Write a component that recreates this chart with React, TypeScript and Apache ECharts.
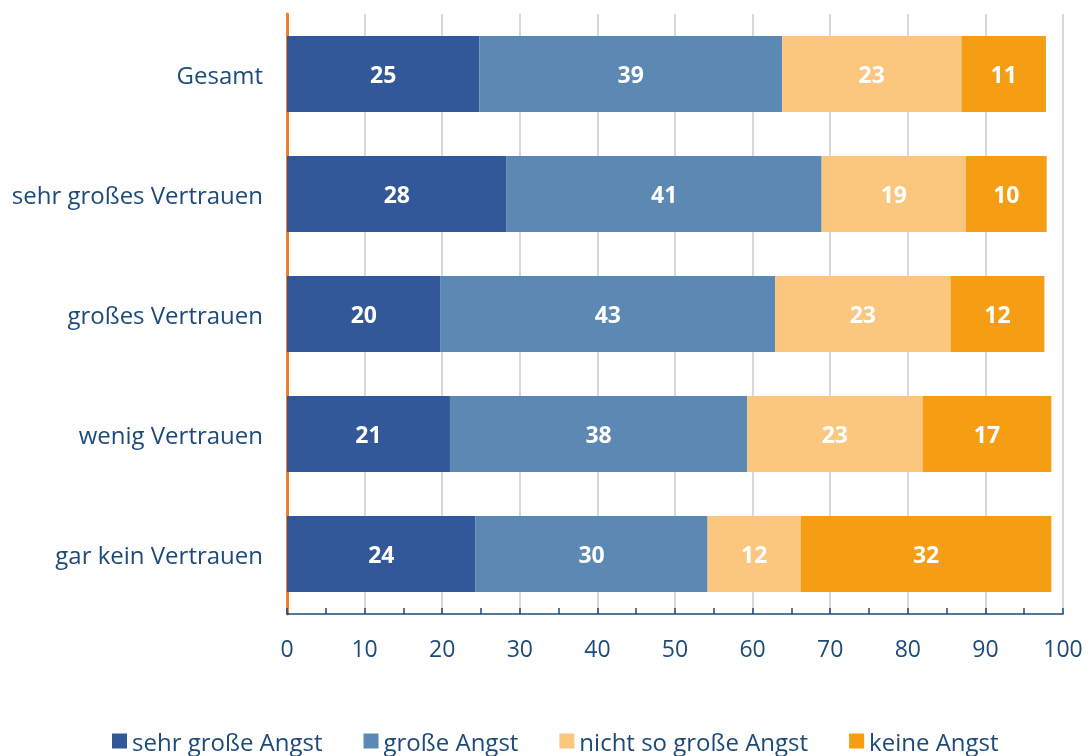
import React, { useEffect, useRef } from "react";
import * as echarts from "echarts";

const categories = ["Gesamt", "sehr großes Vertrauen", "großes Vertrauen", "wenig Vertrauen", "gar kein Vertrauen"];
const seriesNames = ["sehr große Angst", "große Angst", "nicht so große Angst", "keine Angst"];
const sehrGrosseAngst = [24.8, 28.3, 19.8, 21.0, 24.3];
const grosseAngst = [39.0, 40.6, 43.1, 38.3, 29.9];
const nichtSoGrosseAngst = [23.1, 18.6, 22.6, 22.6, 12.0];
const keineAngst = [10.9, 10.4, 12.1, 16.6, 32.3];
const colors = ["#335899", "#5b89b3", "#fbc77f", "#f59e14"];

export default function App() {
  const ref = useRef<HTMLDivElement>(null);
  useEffect(() => {
    if (!ref.current) return;
    const chart = echarts.init(ref.current, null, { renderer: "svg" });
    const font = "'Open Sans', 'Noto Sans', sans-serif";
    const textColor = "#1d4a78";
    const data = [sehrGrosseAngst, grosseAngst, nichtSoGrosseAngst, keineAngst];
    chart.setOption({
      animation: false,
      textStyle: { fontFamily: font },
      grid: { left: 287, right: 26, top: 14, bottom: 142, containLabel: false },
      legend: {
        left: 112,
        top: 729,
        padding: 0,
        itemWidth: 15,
        itemHeight: 15,
        itemGap: 41,
        icon: "rect",
        textStyle: { fontSize: 24, lineHeight: 24, color: textColor, fontFamily: font },
        data: seriesNames,
      },
      xAxis: {
        type: "value",
        min: 0,
        max: 100,
        interval: 10,
        axisLine: { show: true, lineStyle: { color: textColor, width: 1.5 } },
        axisTick: { show: true, inside: true, length: 6, lineStyle: { color: textColor, width: 1.5 } },
        minorTick: { show: true, splitNumber: 2, length: 6, lineStyle: { color: textColor, width: 1.5 } },
        axisLabel: { fontSize: 23, color: textColor, margin: 22, fontFamily: font },
        splitLine: { show: true, lineStyle: { color: "#d9d9d9", width: 2 } },
      },
      yAxis: {
        type: "category",
        inverse: true,
        data: categories,
        axisLine: { show: true, lineStyle: { color: "#f07f2a", width: 3 } },
        axisTick: { show: false },
        axisLabel: { fontSize: 24, color: textColor, margin: 24, fontFamily: font },
      },
      series: data.map((vals, i) => ({
        name: seriesNames[i],
        type: "bar",
        stack: "total",
        barWidth: 76,
        itemStyle: { color: colors[i] },
        label: {
          show: true,
          position: "inside",
          color: "#ffffff",
          fontWeight: "bold",
          fontSize: 23,
          fontFamily: font,
          formatter: (p: any) => String(Math.round(p.value)),
        },
        data: vals,
      })),
    });
    return () => chart.dispose();
  }, []);
  return <div ref={ref} style={{ position: "fixed", left: 0, top: 0, width: 1089, height: 756 }} />;
}
